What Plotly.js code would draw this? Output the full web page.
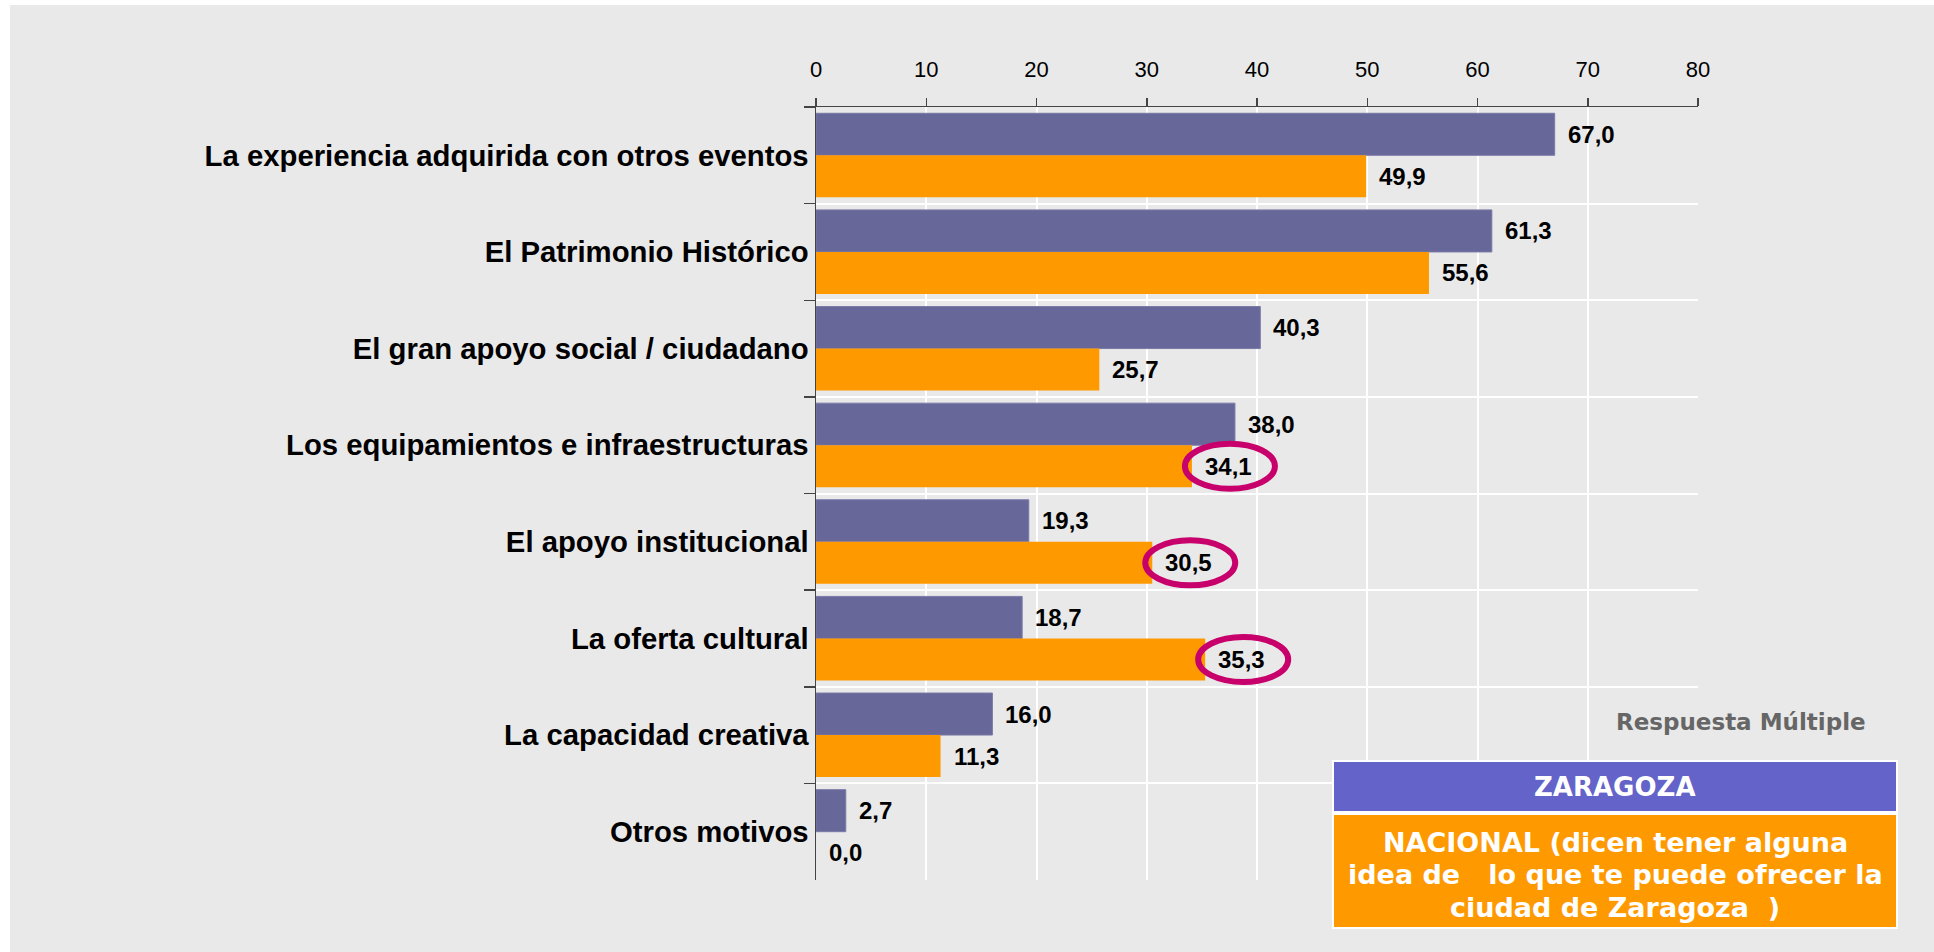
<!DOCTYPE html>
<html>
<head>
<meta charset="utf-8">
<script src="https://cdn.plot.ly/plotly-3.0.1.min.js"></script>
<style>
  html, body { margin: 0; padding: 0; background: #ffffff; }
  #chart { position: absolute; left: 10px; top: 5px; width: 1924px; height: 947px; }
</style>
</head>
<body>
<div id="chart"></div>
<script>
// Reasons given, top to bottom
const categories = [
  'La experiencia adquirida con otros eventos',
  'El Patrimonio Histórico',
  'El gran apoyo social / ciudadano',
  'Los equipamientos e infraestructuras',
  'El apoyo institucional',
  'La oferta cultural',
  'La capacidad creativa',
  'Otros motivos'
];
// Percentages per group
const zaragoza = [67.0, 61.3, 40.3, 38.0, 19.3, 18.7, 16.0, 2.7];
const nacional = [49.9, 55.6, 25.7, 34.1, 30.5, 35.3, 11.3, 0.0];
// Nacional values ringed to stand out
const circledNacional = [
  'Los equipamientos e infraestructuras',
  'El apoyo institucional',
  'La oferta cultural'
];
const xTickValues = [0, 10, 20, 30, 40, 50, 60, 70, 80];

const seriesNames = ['ZARAGOZA', 'NACIONAL (dicen tener alguna<br>idea de   lo que te puede ofrecer la<br>ciudad de Zaragoza  )'];
const noteText = 'Respuesta Múltiple';

const PURPLE = '#676799';
const ORANGE = '#FF9900';
const LEGEND_PURPLE = '#6363C9';
const RING = '#C8006B';

const BARGAP = 0.13;
const halfOffset = (1 - BARGAP) / 4;   // centre of each bar within its category

// page geometry (div sits 10px in, 5px down)
const DIV_LEFT = 10, DIV_TOP = 5, DIV_W = 1924, DIV_H = 947;
const M = { l: 806, r: 236, t: 102, b: 72 };
const plotL = DIV_LEFT + M.l, plotW = DIV_W - M.l - M.r;
const plotB = DIV_TOP + DIV_H - M.b, plotH = DIV_H - M.t - M.b;
const px = v => (v - plotL) / plotW;
const py = v => (plotB - v) / plotH;

const fmt = v => v.toFixed(1).replace('.', ',');

const traces = [
  {
    type: 'bar', orientation: 'h', name: 'ZARAGOZA',
    y: categories, x: zaragoza,
    marker: { color: PURPLE, line: { color: '#7a7aa8', width: 1 } },
    hoverinfo: 'x+y'
  },
  {
    type: 'bar', orientation: 'h', name: 'NACIONAL',
    y: categories, x: nacional,
    marker: { color: ORANGE, line: { width: 0 } },
    hoverinfo: 'x+y'
  }
];

const labelFont = { family: 'Liberation Sans, Arial, sans-serif', size: 24, color: '#000000', weight: 'bold' };
const annotations = [];
categories.forEach((c, i) => {
  annotations.push({
    x: zaragoza[i], y: i - halfOffset, xref: 'x', yref: 'y',
    text: fmt(zaragoza[i]), showarrow: false, xanchor: 'left', yanchor: 'middle',
    xshift: 11, font: labelFont
  });
  annotations.push({
    x: nacional[i], y: i + halfOffset, xref: 'x', yref: 'y',
    text: fmt(nacional[i]), showarrow: false, xanchor: 'left', yanchor: 'middle',
    xshift: 11, font: labelFont
  });
});

const shapes = [];
// rings around highlighted labels
categories.forEach((c, i) => {
  if (circledNacional.indexOf(c) === -1) return;
  shapes.push({
    type: 'circle', xref: 'x', yref: 'y',
    xsizemode: 'pixel', ysizemode: 'pixel',
    xanchor: nacional[i], yanchor: i + halfOffset,
    x0: 38 - 45, x1: 38 + 45, y0: -22.5, y1: 22.5,
    line: { color: RING, width: 6 }, fillcolor: 'rgba(0,0,0,0)', layer: 'above'
  });
});

// key boxes
shapes.push({
  type: 'rect', xref: 'paper', yref: 'paper',
  x0: px(1333), x1: px(1897), y0: py(812), y1: py(761),
  fillcolor: LEGEND_PURPLE, line: { color: '#ffffff', width: 2 }, layer: 'above'
});
shapes.push({
  type: 'rect', xref: 'paper', yref: 'paper',
  x0: px(1333), x1: px(1897), y0: py(928), y1: py(814),
  fillcolor: ORANGE, line: { color: '#ffffff', width: 2 }, layer: 'above'
});

const keyFont = { family: 'DejaVu Sans, Verdana, sans-serif', size: 26, color: '#ffffff', weight: 'bold' };
annotations.push({
  xref: 'paper', yref: 'paper', x: px(1615), y: py(786.5),
  text: seriesNames[0], showarrow: false, xanchor: 'center', yanchor: 'middle', font: keyFont
});
// the long key entry is set line by line for tighter leading
const keyLines = seriesNames[1].split('<br>');
const keyFont2 = Object.assign({}, keyFont, { size: 27 });
keyLines.forEach((line, k) => {
  annotations.push({
    xref: 'paper', yref: 'paper', x: px(1615), y: py(842 + k * 32.5),
    text: line.replace(/ {2,}/g, m => '&nbsp;'.repeat(m.length)),
    showarrow: false, xanchor: 'center', yanchor: 'middle', font: keyFont2
  });
});
annotations.push({
  xref: 'paper', yref: 'paper', x: px(1741), y: py(722),
  text: noteText, showarrow: false, xanchor: 'center', yanchor: 'middle',
  font: { family: 'DejaVu Sans, Verdana, sans-serif', size: 23, color: '#666666', weight: 'bold' }
});

const layout = {
  width: DIV_W, height: DIV_H,
  margin: M,
  paper_bgcolor: '#E9E9E9',
  plot_bgcolor: '#E9E9E9',
  showlegend: false,
  barmode: 'group',
  bargap: BARGAP,
  bargroupgap: 0,
  xaxis: {
    side: 'top',
    range: [0, 80],
    tickvals: xTickValues,
    ticktext: xTickValues.map(String),
    ticks: 'outside', ticklen: 8, tickwidth: 1.5, tickcolor: '#444444',
    ticklabelstandoff: 12,
    showline: true, linecolor: '#444444', linewidth: 1.5,
    showgrid: true, gridcolor: '#ffffff', gridwidth: 2,
    zeroline: false,
    tickfont: { family: 'Liberation Sans, Arial, sans-serif', size: 22, color: '#000000' },
    fixedrange: true
  },
  yaxis: {
    type: 'category',
    autorange: 'reversed',
    tickson: 'boundaries',
    ticks: 'outside', ticklen: 11, tickwidth: 1.5, tickcolor: '#444444',
    showline: true, linecolor: '#444444', linewidth: 1.5,
    showgrid: true, gridcolor: '#ffffff', gridwidth: 2,
    zeroline: false,
    tickfont: { family: 'Liberation Sans, Arial, sans-serif', size: 29.3, color: '#000000', weight: 'bold' },
    fixedrange: true
  },
  annotations: annotations,
  shapes: shapes
};

Plotly.newPlot('chart', traces, layout, { displayModeBar: false, staticPlot: true });
</script>
</body>
</html>
